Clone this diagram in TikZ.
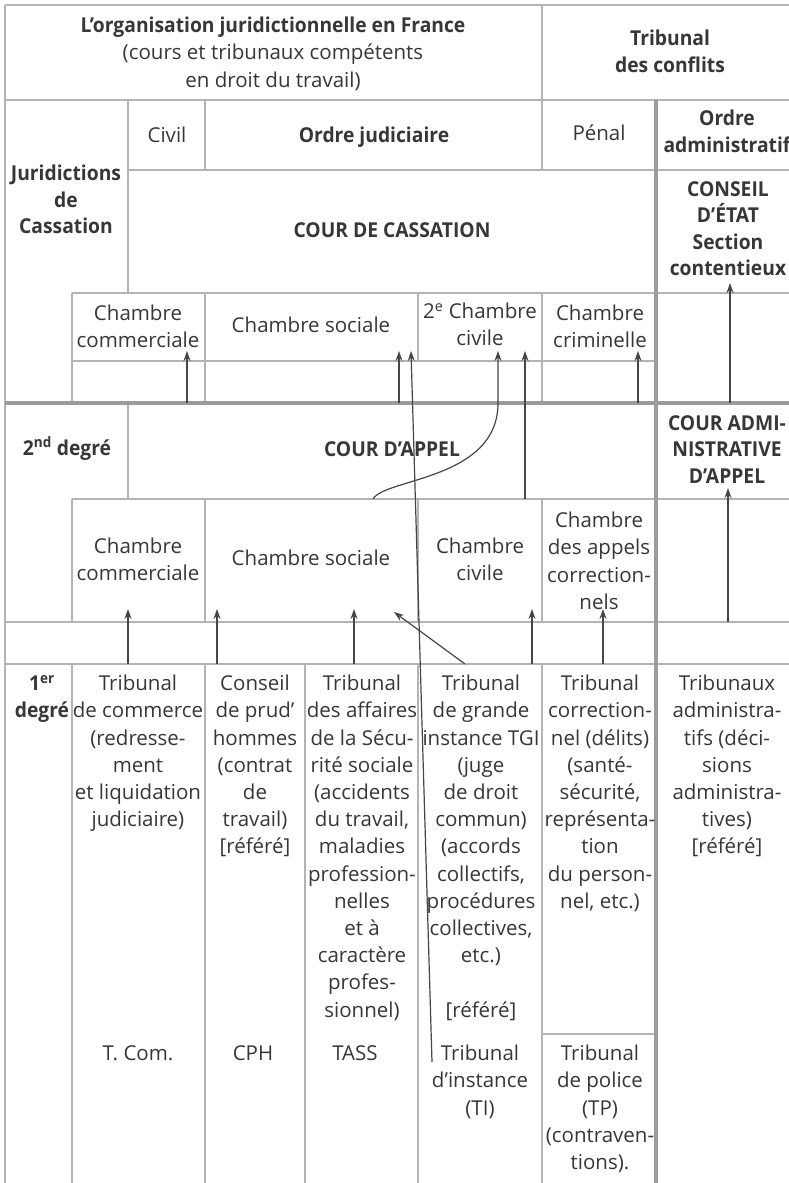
\documentclass[tikz,border=0pt]{standalone}
\usepackage{fontspec}
\setmainfont{Open Sans}[BoldFeatures={FakeStretch=0.94}]
\usetikzlibrary{arrows.meta}
\definecolor{rulegray}{RGB}{180,180,180}
\definecolor{thickgray}{RGB}{155,155,155}
\definecolor{inkgray}{RGB}{55,55,55}
\definecolor{arrowgray}{RGB}{70,70,70}
\tikzset{
  rule/.style={draw=rulegray, line width=1.5pt},
  bigrule/.style={draw=thickgray, line width=4.5pt},
  cell/.style={align=center, inner sep=0pt, text=inkgray, anchor=north, font=\fontsize{20.5}{27.2}\selectfont},
  bcell/.style={cell, font=\fontsize{20.5}{26.5}\selectfont\bfseries},
  arr/.style={draw=arrowgray, line width=1.2pt, -{Stealth[length=10pt,width=7pt]}}
}

\begin{document}
\begin{tikzpicture}[x=1pt,y=-1pt]
\useasboundingbox (0,0) rectangle (789,1183);
\clip (0,0) rectangle (789,1183);
\fill[white] (0,0) rectangle (789,1183);

\draw[rule] (5,5) -- (789,5);
\draw[rule] (5,100) -- (789,100);
\draw[rule] (128,170) -- (789,170);
\draw[rule] (72,293) -- (789,293);
\draw[rule] (72,361) -- (656,361);
\draw[rule] (72,499) -- (789,499);
\draw[rule] (5,622) -- (789,622);
\draw[rule] (5,664) -- (789,664);
\draw[rule] (542,1034) -- (656,1034);
\draw[rule] (5,5) -- (5,1183);
\draw[rule] (542,5) -- (542,170);
\draw[rule] (128,100) -- (128,293);
\draw[rule] (205,100) -- (205,170);
\draw[rule] (72,293) -- (72,403);
\draw[rule] (205,293) -- (205,403);
\draw[rule] (418,293) -- (418,361);
\draw[rule] (542,293) -- (542,403);
\draw[rule] (128,403) -- (128,499);
\draw[rule] (72,499) -- (72,622);
\draw[rule] (205,499) -- (205,622);
\draw[rule] (418,499) -- (418,622);
\draw[rule] (542,499) -- (542,622);
\draw[rule] (72,664) -- (72,1183);
\draw[rule] (205,664) -- (205,1183);
\draw[rule] (305,664) -- (305,1183);
\draw[rule] (418,664) -- (418,1183);
\draw[rule] (542,664) -- (542,1183);
\draw[bigrule] (5,403) -- (789,403);
\draw[bigrule] (656,100) -- (656,1183);

\node[cell] (title) at (273,17) {{\bfseries L’organisation juridictionnelle en France}\\(cours et tribunaux compétents\\en droit du travail)};
\node[bcell] (conflits) at (670,30) {Tribunal\\des conflits};
\node[cell] (civil) at (167,127) {Civil};
\node[bcell] (ordrejud) at (374,127) {Ordre judiciaire};
\node[cell] (penal) at (599,125) {Pénal};
\node[bcell] (ordreadm) at (727,110) {Ordre\\administratif};
\node[bcell] (jurcass) at (66,165) {Juridictions\\de\\Cassation};
\node[bcell] (courcass) at (392,222) {COUR DE CASSATION};
\node[bcell] (conseil) at (728,181) {CONSEIL\\D’ÉTAT\\Section\\contentieux};

\node[cell] (cascom) at (138,305) {Chambre\\commerciale};
\node[cell] (cassoc) at (311,317) {Chambre sociale};
\node[cell] (casciv) at (480,303) {2\textsuperscript{e} Chambre\\civile};
\node[cell] (cascrim) at (600,305) {Chambre\\criminelle};

\node[bcell, anchor=base] (deg2) at (67,455) {2\textsuperscript{nd} degré};
\node[bcell, anchor=base] (courappel) at (392,456) {COUR D’APPEL};
\node[bcell] (caa) at (727,415) {COUR ADMI-\\NISTRATIVE\\D’APPEL};

\node[cell] (appcom) at (138,538) {Chambre\\commerciale};
\node[cell] (appsoc) at (311,550) {Chambre sociale};
\node[cell] (appciv) at (480,538) {Chambre\\civile};
\node[cell] (appcorr) at (599,512) {Chambre\\des appels\\correction-\\nels};

\node[bcell] (deg1) at (42,675) {1\textsuperscript{er}\\degré};
\node[cell] (tcom) at (138,675) {Tribunal\\de commerce\\(redresse-\\ment\\et liquidation\\judiciaire)};
\node[cell] (cph) at (255,675) {Conseil\\de prud’\\hommes\\(contrat\\de\\travail)\\{}[référé]};
\node[cell] (tass) at (362,675) {Tribunal\\des affaires\\de la Sécu-\\rité sociale\\(accidents\\du travail,\\maladies\\profession-\\nelles\\et à\\caractère\\profes-\\sionnel)};
\node[cell] (tgi) at (481,675) {Tribunal\\de grande\\instance TGI\\(juge\\de droit\\commun)\\(accords\\collectifs,\\procédures\\collectives,\\etc.)\\[27.2pt]{}[référé]};
\node[cell] (tcorr) at (600,675) {Tribunal\\correction-\\nel (délits)\\(santé-\\sécurité,\\représenta-\\tion\\du person-\\nel, etc.)};
\node[cell] (tadm) at (727,675) {Tribunaux\\administra-\\tifs (déci-\\sions\\administra-\\tives)\\{}[référé]};

\node[cell, anchor=base] (tcomab) at (138,1060) {T. Com.};
\node[cell, anchor=base] (cphab) at (253,1060) {CPH};
\node[cell, anchor=base] (tassab) at (355,1060) {TASS};
\node[cell] (ti) at (480,1045) {Tribunal\\d’instance\\(TI)};
\node[cell] (tp) at (600,1045) {Tribunal\\de police\\(TP)\\(contraven-\\tions).};

\coordinate (cassoc-a) at (399,403);
\coordinate (cassoc-in) at (399,351);
\coordinate (cascom-a) at (187,403);
\coordinate (cascom-in) at (187,351);
\coordinate (ti-up) at (432,1062);
\coordinate (cassoc-in2) at (411,351);
\coordinate (appel-up) at (373,499);
\coordinate (casciv-in) at (498,351);
\coordinate (appciv-up) at (525,499);
\coordinate (casciv-in2) at (525,351);
\coordinate (cascrim-a) at (638,403);
\coordinate (cascrim-in) at (638,351);
\coordinate (caa-up) at (730,403);
\coordinate (conseil-in) at (730,283);
\draw[arr] (cascom-a) -- (cascom-in);
\draw[arr] (cassoc-a) -- (cassoc-in);
\draw[arr] (ti-up) -- (cassoc-in2);
\draw[arr] (appel-up) .. controls (385,478) and (498,480) .. (498,403) -- (casciv-in);
\draw[arr] (appciv-up) -- (casciv-in2);
\draw[arr] (cascrim-a) -- (cascrim-in);
\draw[arr] (caa-up) -- (conseil-in);

\coordinate (tcom-up) at (128,664);
\coordinate (appcom-in) at (128,609);
\coordinate (cph-up) at (217,664);
\coordinate (appsoc-in) at (217,609);
\coordinate (tass-up) at (354,664);
\coordinate (appsoc-in2) at (354,609);
\coordinate (tgi-up) at (465,664);
\coordinate (appsoc-in3) at (394,612);
\coordinate (tgi-up2) at (532,664);
\coordinate (appciv-in) at (532,609);
\coordinate (tcorr-up) at (603,664);
\coordinate (appcorr-in) at (603,609);
\coordinate (tadm-up) at (728,622);
\coordinate (caa-in) at (728,488);
\draw[arr] (tcom-up) -- (appcom-in);
\draw[arr] (cph-up) -- (appsoc-in);
\draw[arr] (tass-up) -- (appsoc-in2);
\draw[arr] (tgi-up) -- (appsoc-in3);
\draw[arr] (tgi-up2) -- (appciv-in);
\draw[arr] (tcorr-up) -- (appcorr-in);
\draw[arr] (tadm-up) -- (caa-in);
\end{tikzpicture}
\end{document}
